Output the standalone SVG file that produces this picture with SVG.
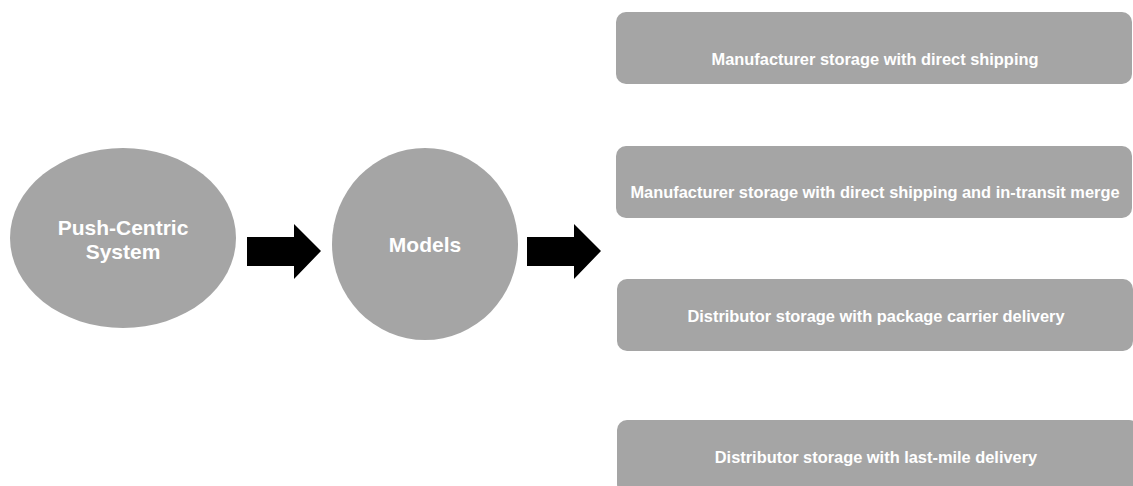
<svg xmlns="http://www.w3.org/2000/svg" width="1133" height="486" viewBox="0 0 1133 486">
  <style>
    .shape { fill: #a5a5a5; }
    .big { font-family: "Liberation Sans", Arial, sans-serif; font-weight: bold; font-size: 21px; fill: #ffffff; text-anchor: middle; }
    .small { font-family: "Liberation Sans", Arial, sans-serif; font-weight: bold; font-size: 16.4px; fill: #ffffff; text-anchor: middle; }
    .arrow { fill: #000000; }
  </style>
  <defs>
    <!-- block arrow pointing right, origin at shaft top-left -->
    <path id="blockArrow" d="M0,13 H47 V0 L74,27 L47,55 V42 H0 Z"/>
  </defs>
  <rect width="1133" height="486" fill="#ffffff"/>

  <g id="push-centric-system">
    <ellipse class="shape" cx="123" cy="238" rx="113" ry="90"/>
    <text class="big" x="123" y="235">Push-Centric</text>
    <text class="big" x="123" y="259">System</text>
  </g>

  <g id="models">
    <ellipse class="shape" cx="425" cy="244" rx="93" ry="96"/>
    <text class="big" x="425" y="252">Models</text>
  </g>

  <g id="manufacturer-direct">
    <rect class="shape" x="616" y="12" width="516" height="72" rx="10" ry="10"/>
    <text class="small" x="875" y="65">Manufacturer storage with direct shipping</text>
  </g>

  <g id="manufacturer-merge">
    <rect class="shape" x="616" y="146" width="516" height="72" rx="10" ry="10"/>
    <text class="small" x="875" y="198">Manufacturer storage with direct shipping and in-transit merge</text>
  </g>

  <g id="distributor-carrier">
    <rect class="shape" x="617" y="279" width="516" height="72" rx="10" ry="10"/>
    <text class="small" x="876" y="322">Distributor storage with package carrier delivery</text>
  </g>

  <g id="distributor-last-mile">
    <rect class="shape" x="617" y="420" width="522" height="74" rx="10" ry="10"/>
    <text class="small" x="876" y="463">Distributor storage with last-mile delivery</text>
  </g>

  <g id="connectors">
    <use href="#blockArrow" class="arrow" x="247" y="224"/>
    <use href="#blockArrow" class="arrow" x="527" y="224"/>
  </g>
</svg>
